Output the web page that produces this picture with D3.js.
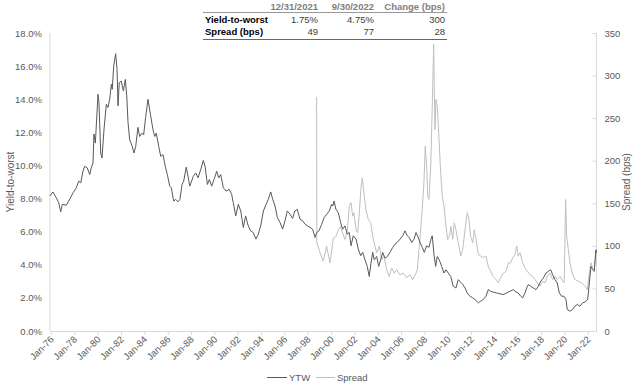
<!DOCTYPE html>
<html>
<head>
<meta charset="utf-8">
<script src="https://cdn.jsdelivr.net/npm/d3@7"></script>
<style>
  body { margin: 0; background: #fff; }
  svg { display: block; font-family: "Liberation Sans", Arial, sans-serif; }
</style>
</head>
<body>
<svg></svg>
<script>
// yield-to-worst (%), [decimal year, value]
var ytw = [
  [1975.89, 8.15], [1976.17, 8.4], [1976.45, 8.05], [1976.66, 7.75], [1976.83, 7.2], [1976.97, 7.65],
  [1977.31, 7.6], [1977.52, 7.85], [1977.89, 8.35], [1978.17, 8.65], [1978.37, 9.05], [1978.55, 8.95],
  [1978.74, 9.65], [1978.89, 9.95], [1979.11, 9.85], [1979.32, 9.45], [1979.45, 9.85], [1979.6, 10.15],
  [1979.68, 11.9], [1979.8, 11.35], [1980.03, 14.3], [1980.11, 13.8], [1980.26, 10.75], [1980.37, 10.45],
  [1980.54, 12.15], [1980.74, 13.7], [1980.88, 13.5], [1981.03, 14.0], [1981.17, 14.9], [1981.25, 14.6],
  [1981.37, 16.0], [1981.54, 16.75], [1981.66, 15.8], [1981.74, 13.6], [1981.85, 15.0], [1982.02, 15.1],
  [1982.2, 14.5], [1982.37, 15.2], [1982.49, 14.2], [1982.6, 12.6], [1982.74, 11.55], [1982.94, 11.2],
  [1983.11, 10.75], [1983.26, 11.15], [1983.45, 12.3], [1983.6, 11.75], [1983.8, 11.95], [1983.94, 11.85],
  [1984.11, 12.9], [1984.31, 14.0], [1984.54, 13.0], [1984.74, 12.15], [1984.89, 11.75], [1985.02, 11.95],
  [1985.23, 11.15], [1985.4, 10.55], [1985.6, 10.65], [1985.79, 9.95], [1985.97, 9.45], [1986.17, 8.75],
  [1986.31, 8.65], [1986.51, 7.85], [1986.69, 7.95], [1986.88, 7.8], [1987.05, 7.95], [1987.23, 8.85],
  [1987.37, 9.05], [1987.59, 9.9], [1987.74, 9.35], [1987.89, 8.75], [1988.2, 9.35], [1988.4, 9.55],
  [1988.6, 9.25], [1988.85, 9.8], [1989.05, 10.3], [1989.2, 9.95], [1989.4, 8.85], [1989.57, 9.15],
  [1989.77, 8.75], [1989.97, 9.15], [1990.2, 9.65], [1990.37, 9.25], [1990.54, 9.45], [1990.77, 8.65],
  [1991.0, 8.45], [1991.28, 8.55], [1991.48, 8.25], [1991.62, 7.75], [1991.83, 6.95], [1992.05, 7.65],
  [1992.26, 7.25], [1992.48, 6.25], [1992.68, 6.95], [1992.9, 6.35], [1993.1, 6.05], [1993.33, 5.95],
  [1993.56, 5.55], [1993.76, 5.85], [1993.97, 6.35], [1994.2, 7.25], [1994.43, 7.65], [1994.62, 7.95],
  [1994.83, 8.4], [1995.0, 7.95], [1995.2, 7.55], [1995.4, 6.85], [1995.63, 6.55], [1995.85, 6.15],
  [1996.05, 6.65], [1996.25, 7.25], [1996.48, 7.05], [1996.7, 6.8], [1996.9, 7.25], [1997.1, 7.35],
  [1997.34, 6.75], [1997.57, 6.65], [1997.77, 6.45], [1997.96, 6.35], [1998.2, 6.25], [1998.42, 6.15],
  [1998.62, 5.65], [1998.77, 5.95], [1998.96, 6.05], [1999.2, 6.45], [1999.4, 6.85], [1999.62, 7.05],
  [1999.85, 7.25], [2000.05, 7.65], [2000.15, 7.55], [2000.25, 7.85], [2000.42, 7.35], [2000.62, 7.15],
  [2000.82, 6.55], [2000.99, 6.15], [2001.19, 6.35], [2001.39, 5.85], [2001.56, 5.95], [2001.71, 5.15],
  [2001.9, 5.75], [2002.14, 5.55], [2002.33, 4.95], [2002.54, 4.55], [2002.71, 4.75], [2002.91, 4.3],
  [2003.1, 3.9], [2003.27, 3.3], [2003.42, 4.1], [2003.57, 4.75], [2003.7, 4.3], [2003.91, 4.5],
  [2004.08, 3.9], [2004.25, 4.3], [2004.42, 4.75], [2004.62, 4.4], [2004.82, 4.5], [2005.05, 4.75],
  [2005.28, 5.05], [2005.48, 5.25], [2005.67, 5.35], [2005.91, 5.55], [2006.14, 5.75], [2006.33, 6.05],
  [2006.53, 5.75], [2006.7, 5.65], [2006.91, 5.35], [2007.11, 5.55], [2007.28, 5.95], [2007.47, 5.65],
  [2007.62, 5.35], [2007.82, 5.05], [2007.99, 4.75], [2008.19, 5.15], [2008.39, 5.05], [2008.56, 5.55],
  [2008.67, 5.75], [2008.82, 4.6], [2008.96, 3.9], [2009.1, 4.5], [2009.27, 4.3], [2009.48, 3.9],
  [2009.68, 3.5], [2009.85, 3.7], [2010.04, 3.5], [2010.25, 3.3], [2010.47, 2.7], [2010.7, 2.6],
  [2010.9, 3.1], [2011.1, 2.95], [2011.3, 2.8], [2011.48, 2.6], [2011.67, 2.3], [2011.9, 2.1],
  [2012.14, 2.0], [2012.33, 1.9], [2012.62, 1.7], [2012.82, 1.8], [2013.04, 1.9], [2013.27, 2.1],
  [2013.47, 2.5], [2013.68, 2.4], [2013.9, 2.35], [2014.19, 2.3], [2014.47, 2.25], [2014.76, 2.2],
  [2015.05, 2.3], [2015.33, 2.4], [2015.61, 2.5], [2015.85, 2.35], [2016.04, 2.3], [2016.25, 2.1],
  [2016.42, 2.0], [2016.62, 2.3], [2016.76, 2.6], [2016.9, 2.8], [2017.11, 2.7], [2017.33, 2.6],
  [2017.56, 2.5], [2017.76, 2.7], [2017.96, 3.0], [2018.19, 3.2], [2018.42, 3.5], [2018.61, 3.6],
  [2018.82, 3.7], [2018.99, 3.4], [2019.19, 3.1], [2019.38, 2.9], [2019.56, 2.3], [2019.76, 2.1],
  [2019.96, 2.1], [2020.13, 1.9], [2020.24, 1.3], [2020.47, 1.2], [2020.7, 1.3], [2020.9, 1.5],
  [2021.1, 1.6], [2021.33, 1.5], [2021.56, 1.7], [2021.76, 1.75], [2021.99, 1.9], [2022.13, 2.9],
  [2022.27, 3.9], [2022.42, 3.7], [2022.55, 3.6], [2022.7, 4.9], [2022.75, 4.75]
];

// spread (bps), [decimal year, value]
var spread = [
  [1998.76, 275], [1998.78, 103.6], [1999.05, 92], [1999.33, 82], [1999.62, 99.6], [1999.91, 80],
  [2000.19, 109], [2000.42, 111], [2000.62, 119], [2000.82, 123], [2000.99, 115], [2001.19, 107.5],
  [2001.39, 117], [2001.56, 146.6], [2001.71, 150.6], [2001.85, 134.8], [2001.96, 138.8], [2002.14, 119],
  [2002.28, 115], [2002.42, 138.8], [2002.56, 168], [2002.68, 180], [2002.82, 162], [2002.99, 142.7],
  [2003.19, 131], [2003.4, 127], [2003.57, 111], [2003.76, 99.6], [2003.91, 91.8], [2004.13, 99.6],
  [2004.34, 84], [2004.53, 88], [2004.77, 72], [2004.99, 64], [2005.19, 74], [2005.42, 68],
  [2005.62, 72], [2005.91, 66], [2006.19, 68], [2006.48, 62.5], [2006.76, 66], [2006.99, 60.5],
  [2007.28, 68], [2007.39, 72], [2007.56, 99.6], [2007.77, 134.8], [2007.96, 174], [2008.07, 217],
  [2008.19, 193.6], [2008.28, 158], [2008.39, 154.5], [2008.54, 193.6], [2008.67, 264], [2008.79, 336.5],
  [2008.9, 236.7], [2008.99, 272], [2009.1, 264], [2009.25, 225], [2009.39, 186], [2009.53, 158],
  [2009.68, 146.6], [2009.85, 123], [2009.99, 107.5], [2010.13, 111], [2010.28, 123], [2010.42, 107.5],
  [2010.56, 127], [2010.7, 119], [2010.9, 103.6], [2011.11, 88], [2011.28, 95.7], [2011.48, 119],
  [2011.67, 138.8], [2011.82, 131], [2011.96, 111], [2012.14, 103.6], [2012.27, 119], [2012.42, 107.5],
  [2012.62, 90], [2012.82, 88], [2013.04, 86], [2013.27, 88], [2013.47, 76], [2013.68, 70],
  [2013.9, 64], [2014.13, 60.5], [2014.33, 56.6], [2014.53, 62.5], [2014.76, 68], [2014.99, 70],
  [2015.19, 80], [2015.39, 80], [2015.56, 86], [2015.76, 90], [2015.91, 99.6], [2016.04, 88],
  [2016.19, 92], [2016.42, 80], [2016.62, 74], [2016.81, 70], [2017.05, 66], [2017.28, 64],
  [2017.47, 60.5], [2017.67, 56.6], [2017.9, 52.6], [2018.13, 58.5], [2018.33, 56.6], [2018.53, 64],
  [2018.76, 68], [2018.99, 60.5], [2019.19, 64], [2019.38, 60.5], [2019.62, 64], [2019.85, 58.5],
  [2019.98, 56.6], [2020.1, 154.5], [2020.19, 111], [2020.33, 95.7], [2020.47, 80], [2020.67, 68],
  [2020.9, 60.5], [2021.18, 58.5], [2021.47, 56.6], [2021.76, 52.6], [2021.96, 48.7], [2022.13, 68],
  [2022.27, 80], [2022.42, 74], [2022.55, 72], [2022.7, 95.7], [2022.75, 90]
];

var tableHeader = ["12/31/2021", "9/30/2022", "Change (bps)"];
var tableRows = [
  ["Yield-to-worst", "1.75%", "4.75%", "300"],
  ["Spread (bps)", "49", "77", "28"]
];

var leftTicks = [0, 0.02, 0.04, 0.06, 0.08, 0.10, 0.12, 0.14, 0.16, 0.18];
var rightTicks = [0, 50, 100, 150, 200, 250, 300, 350];

(function (d3) {
  'use strict';

  var width = 641, height = 386;
  var plotLeft = 50, plotRight = 596.5, plotTop = 33, plotBottom = 331;
  var darkColor = "#595959", lightColor = "#bfbfbf", axisColor = "#d9d9d9", labelColor = "#595959";

  var svg = d3.select("svg").attr("width", width).attr("height", height);

  function toDate(y) {
    var yr = Math.floor(y);
    var start = new Date(yr, 0, 1), end = new Date(yr + 1, 0, 1);
    return new Date(start.getTime() + (y - yr) * (end - start));
  }

  var x = d3.scaleTime()
    .domain([new Date(1975, 11, 1), new Date(2022, 8, 30)])
    .range([plotLeft, plotRight]);
  var yL = d3.scaleLinear().domain([0, 0.18]).range([plotBottom, plotTop]);
  var yR = d3.scaleLinear().domain([0, 350]).range([plotBottom, plotTop]);

  // axis lines
  svg.append("line").attr("x1", plotLeft).attr("x2", plotLeft).attr("y1", plotTop).attr("y2", plotBottom)
    .attr("stroke", axisColor);
  svg.append("line").attr("x1", plotRight).attr("x2", plotRight).attr("y1", plotTop).attr("y2", plotBottom)
    .attr("stroke", axisColor);

  // bottom axis
  var xAxis = d3.axisBottom(x)
    .ticks(d3.timeYear.every(2))
    .tickFormat(d3.timeFormat("%b-%y"))
    .tickSize(4)
    .tickSizeOuter(0);
  var gx = svg.append("g").attr("transform", "translate(0," + plotBottom + ")").call(xAxis);
  gx.select(".domain").attr("stroke", axisColor).attr("d", "M" + plotLeft + ",0.5H" + plotRight);
  gx.selectAll(".tick line").attr("stroke", axisColor);
  gx.selectAll(".tick text")
    .attr("fill", labelColor)
    .style("font-size", "9.5px")
    .attr("text-anchor", "end")
    .attr("dy", null)
    .attr("y", 0)
    .attr("transform", "translate(3,9) rotate(-45)");

  // left axis
  var gl = svg.append("g").attr("transform", "translate(" + plotLeft + ",0)")
    .call(d3.axisLeft(yL).tickValues(leftTicks).tickFormat(d3.format(".1%")).tickSize(0).tickPadding(8));
  gl.select(".domain").remove();
  gl.selectAll("text").attr("fill", labelColor).style("font-size", "9.5px");

  // right axis
  var gr = svg.append("g").attr("transform", "translate(" + plotRight + ",0)")
    .call(d3.axisRight(yR).tickValues(rightTicks).tickSize(0).tickPadding(8));
  gr.select(".domain").remove();
  gr.selectAll("text").attr("fill", labelColor).style("font-size", "9.5px");
  gr.selectAll(".tick").append("line").attr("x1", -4).attr("x2", 0).attr("stroke", axisColor);

  // axis titles
  svg.append("text")
    .attr("transform", "translate(14," + ((plotTop + plotBottom) / 2) + ") rotate(-90)")
    .attr("text-anchor", "middle")
    .attr("fill", labelColor)
    .style("font-size", "10px")
    .text("Yield-to-worst");
  svg.append("text")
    .attr("transform", "translate(630," + ((plotTop + plotBottom) / 2) + ") rotate(-90)")
    .attr("text-anchor", "middle")
    .attr("fill", labelColor)
    .style("font-size", "10px")
    .text("Spread (bps)");

  // lines
  var lineL = d3.line().x(function(d) { return x(toDate(d[0])); }).y(function(d) { return yL(d[1] / 100); });
  var lineR = d3.line().x(function(d) { return x(toDate(d[0])); }).y(function(d) { return yR(d[1]); });

  svg.append("path").datum(spread)
    .attr("d", lineR).attr("fill", "none").attr("stroke", lightColor).attr("stroke-width", 1);
  svg.append("path").datum(ytw)
    .attr("d", lineL).attr("fill", "none").attr("stroke", darkColor).attr("stroke-width", 1);

  // table
  var colX = [205, 318, 374, 445];
  var t = svg.append("g").style("font-size", "9.5px");
  tableHeader.forEach(function(h, i) {
    t.append("text").attr("x", colX[i + 1]).attr("y", 10).attr("text-anchor", "end")
      .attr("fill", "#7f7f7f").style("font-weight", "bold").text(h);
  });
  t.append("line").attr("x1", 203).attr("x2", 447).attr("y1", 12.5).attr("y2", 12.5)
    .attr("stroke", "#7f7f7f").attr("stroke-width", 0.8);
  tableRows.forEach(function(r, j) {
    var yy = 22.5 + j * 12.5;
    r.forEach(function(v, i) {
      t.append("text").attr("x", colX[i]).attr("y", yy)
        .attr("text-anchor", i === 0 ? "start" : "end")
        .attr("fill", i === 0 ? "#000" : "#404040")
        .style("font-weight", i === 0 ? "bold" : "normal")
        .text(v);
    });
  });
  t.append("line").attr("x1", 203).attr("x2", 447).attr("y1", 39.5).attr("y2", 39.5)
    .attr("stroke", "#404040").attr("stroke-width", 0.8);

  // legend
  var lg = svg.append("g").style("font-size", "9.5px");
  lg.append("line").attr("x1", 267).attr("x2", 287).attr("y1", 377.5).attr("y2", 377.5)
    .attr("stroke", darkColor);
  lg.append("text").attr("x", 289).attr("y", 381).attr("fill", labelColor).text("YTW");
  lg.append("line").attr("x1", 316).attr("x2", 335).attr("y1", 377.5).attr("y2", 377.5)
    .attr("stroke", lightColor);
  lg.append("text").attr("x", 337).attr("y", 381).attr("fill", labelColor).text("Spread");
}(d3));
</script>
</body>
</html>
